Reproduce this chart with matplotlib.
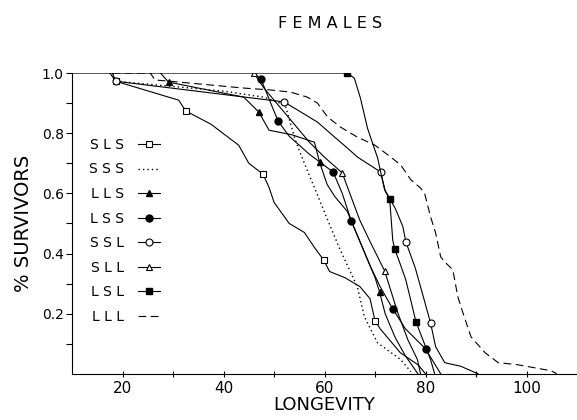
import matplotlib
matplotlib.use("Agg")
import matplotlib.pyplot as plt

# survival curves: (longevity, fraction surviving)
sls_x = [17.5, 18.6, 31.1, 32.5, 37.5, 43.0, 45.0, 47.8, 49.0, 50.0, 53.0, 56.0, 58.0, 59.8,
         61.0, 64.0, 66.0, 67.0, 69.0, 70.0, 71.0, 75.0, 78.5, 80.0]
sls_y = [1.0, 0.973, 0.91, 0.874, 0.83, 0.76, 0.70, 0.664, 0.62, 0.57, 0.50, 0.47, 0.42, 0.379,
         0.34, 0.32, 0.30, 0.29, 0.25, 0.176, 0.15, 0.07, 0.03, 0.0]
sls_marks = [1, 3, 7, 13, 19]

sss_x = [18.0, 18.6, 40.0, 48.0, 52.2, 54.2, 56.0, 58.2, 60.6, 63.1, 66.5, 67.9, 70.5, 75.1, 77.1]
sss_y = [1.0, 0.973, 0.94, 0.92, 0.894, 0.777, 0.70, 0.611, 0.512, 0.412, 0.289, 0.189, 0.103, 0.047, 0.007]

lls_x = [27.5, 29.1, 44.0, 47.0, 49.0, 53.5, 58.0, 59.0, 60.5, 62.0, 64.5, 66.0, 68.0, 70.0, 70.9,
         72.0, 74.0, 76.0, 78.5]
lls_y = [1.0, 0.97, 0.92, 0.87, 0.81, 0.795, 0.77, 0.704, 0.63, 0.59, 0.54, 0.48, 0.40, 0.32, 0.272,
         0.20, 0.12, 0.06, 0.0]
lls_marks = [1, 3, 7, 14]

lss_x = [46.0, 47.4, 50.8, 53.0, 57.0, 61.7, 63.5, 65.3, 67.0, 69.0, 71.0, 73.5, 76.0, 80.0, 83.0]
lss_y = [1.0, 0.98, 0.84, 0.79, 0.73, 0.671, 0.60, 0.508, 0.44, 0.36, 0.29, 0.216, 0.15, 0.083, 0.0]
lss_marks = [1, 2, 5, 7, 11, 13]

ssl_x = [18.0, 18.6, 52.0, 58.6, 62.0, 64.5, 66.5, 71.1, 72.0, 74.0, 75.5, 76.1, 78.0, 79.5,
         81.0, 82.0, 83.8, 87.0, 90.4]
ssl_y = [1.0, 0.973, 0.904, 0.837, 0.787, 0.751, 0.721, 0.671, 0.61, 0.55, 0.49, 0.439, 0.35,
         0.26, 0.169, 0.09, 0.037, 0.025, 0.0]
ssl_marks = [1, 2, 7, 11, 14]

sll_x = [46.0, 48.0, 51.0, 54.0, 57.0, 60.0, 63.5, 65.0, 67.0, 69.0, 71.9, 74.5, 76.5, 78.4, 79.0]
sll_y = [1.0, 0.95, 0.89, 0.83, 0.77, 0.72, 0.668, 0.60, 0.51, 0.44, 0.342, 0.203, 0.113, 0.047, 0.0]
sll_marks = [0, 6, 10]

lsl_x = [10.0, 64.5, 65.9, 67.1, 68.5, 70.5, 71.9, 72.9, 73.5, 73.9, 74.9, 76.1, 78.1, 81.0, 81.8]
lsl_y = [1.0, 1.0, 0.983, 0.917, 0.817, 0.718, 0.611, 0.581, 0.445, 0.415, 0.369, 0.312, 0.173, 0.047, 0.0]
lsl_marks = [1, 7, 9, 12]

lll_x = [18.0, 25.5, 26.4, 29.3, 44.1, 49.2, 53.2, 56.6, 58.6, 60.6, 63.1, 66.5, 69.9, 73.1, 75.1,
         77.1, 79.0, 79.8, 81.0, 82.0, 83.0, 83.8, 85.4, 86.4, 87.4, 89.0, 91.8, 94.4, 98.3, 104.9, 106.0]
lll_y = [1.0, 1.0, 0.977, 0.973, 0.95, 0.944, 0.937, 0.92, 0.90, 0.854, 0.821, 0.787, 0.761, 0.721,
         0.694, 0.645, 0.618, 0.601, 0.522, 0.468, 0.389, 0.372, 0.346, 0.256, 0.203, 0.123, 0.07,
         0.037, 0.03, 0.01, 0.0]

x_ticks = [20, 40, 60, 80, 100]
y_ticks = [0.2, 0.4, 0.6, 0.8, 1.0]
y_labels = ["0.2", "0.4", "0.6", "0.8", "1.0"]

fig = plt.figure(figsize=(5.77, 4.2), dpi=100)
ax = fig.add_axes([0.125, 0.11, 0.875, 0.716])

lw = 0.8
ms = 4.5
ax.plot(sls_x, sls_y, color="k", lw=lw, marker="s", ms=ms, mfc="white", mec="k",
        mew=0.8, markevery=sls_marks, label="S L S")
ax.plot(sss_x, sss_y, color="k", lw=1.0, ls=(0, (1, 2.2)), label="S S S")
ax.plot(lls_x, lls_y, color="k", lw=lw, marker="^", ms=ms, mfc="k", mec="k",
        markevery=lls_marks, label="L L S")
ax.plot(lss_x, lss_y, color="k", lw=lw, marker="o", ms=ms + 0.5, mfc="k", mec="k",
        markevery=lss_marks, label="L S S")
ax.plot(ssl_x, ssl_y, color="k", lw=lw, marker="o", ms=ms + 0.5, mfc="white", mec="k",
        mew=0.8, markevery=ssl_marks, label="S S L")
ax.plot(sll_x, sll_y, color="k", lw=lw, marker="^", ms=ms, mfc="white", mec="k",
        mew=0.8, markevery=sll_marks, label="S L L")
ax.plot(lsl_x, lsl_y, color="k", lw=lw, marker="s", ms=ms + 0.5, mfc="k", mec="k",
        markevery=lsl_marks, label="L S L")
ax.plot(lll_x, lll_y, color="k", lw=lw, ls=(0, (7, 4)), label="L L L")

ax.set_xlim(10, 110)
ax.set_ylim(0, 1.0)
ax.set_xticks(x_ticks)
ax.set_xticks([30, 50, 70, 90], minor=True)
ax.set_yticks(y_ticks)
ax.set_yticklabels(y_labels)
ax.set_yticks([0.1, 0.3, 0.5, 0.7, 0.9], minor=True)
ax.tick_params(axis="x", which="both", direction="inout", length=5, width=0.8, labelsize=11, pad=3)
ax.tick_params(axis="y", which="both", direction="out", length=4, width=0.8, labelsize=10, pad=2)
for s in ["top", "right"]:
    ax.spines[s].set_visible(False)
for s in ["left", "bottom"]:
    ax.spines[s].set_linewidth(0.8)

ax.set_xlabel("LONGEVITY", fontsize=13, labelpad=0)
ax.set_ylabel("% SURVIVORS", fontsize=14, labelpad=6)
fig.text(0.572, 0.945, "F E M A L E S", ha="center", va="center", fontsize=11.5)

ax.legend(loc="upper left", bbox_to_anchor=(0.145, 0.685), bbox_transform=fig.transFigure,
          frameon=False, markerfirst=False, fontsize=10, handlelength=1.6,
          labelspacing=0.76, handletextpad=1.0, borderaxespad=0)

fig.savefig("out.png", dpi=100)
